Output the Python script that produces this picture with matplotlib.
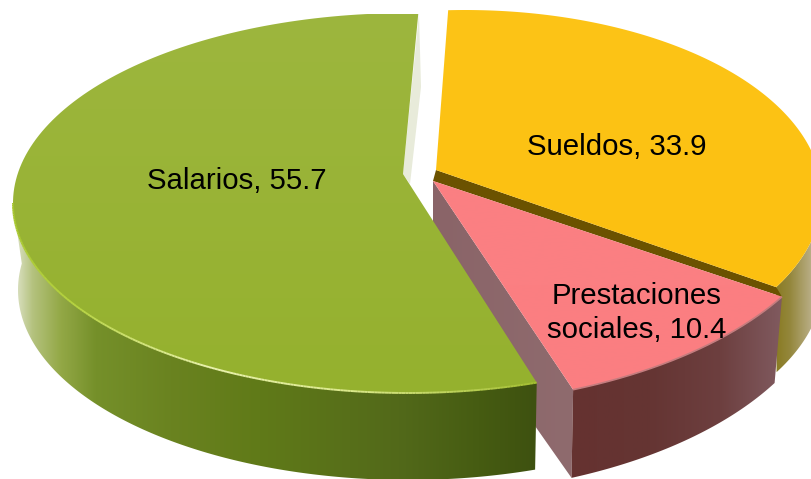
import numpy as np
import matplotlib; matplotlib.use("Agg"); import matplotlib.pyplot as plt
from matplotlib.collections import LineCollection
from matplotlib.colors import LinearSegmentedColormap
from matplotlib.patches import Polygon

plt.rcParams["font.family"] = ["Liberation Sans", "DejaVu Sans"]

CATEGORIES = ["Salarios", "Sueldos", "Prestaciones\nsociales"]
VALUES = [55.7, 33.9, 10.4]
W, H = 811, 479

fig = plt.figure(figsize=(W/100, H/100), dpi=100)
ax = fig.add_axes([0, 0, 1, 1]); ax.set_axis_off()

def arc(e, a0, a1, n=160):
    t = np.radians(np.linspace(a0, a1, n))
    return np.c_[e[0] + e[2]*np.cos(t), e[1] - e[3]*np.sin(t)]

def fill(pts, stops, vertical=False, z=1):
    # gradient clipped to a polygon, stops are (pixel position, colour)
    lo, hi = stops[0][0], stops[-1][0]
    cm = LinearSegmentedColormap.from_list("g", [((p-lo)/(hi-lo), c) for p, c in stops])
    g = np.linspace(0, 1, 256)
    g = g[:, None] if vertical else g[None, :]
    ext = (0, W, hi, lo) if vertical else (lo, hi, H, 0)
    im = ax.imshow(g, cmap=cm, extent=ext, aspect="auto", zorder=z, interpolation="bilinear")
    im.set_clip_path(Polygon(pts, closed=True, transform=ax.transData))

# ellipses are (cx, cy, rx, ry): top face then bottom face of each exploded slice
G_TOP, G_BOT = (408, 203, 395, 190), (408, 290, 390, 190)
Y_TOP, Y_BOT = (465, 196, 357, 186), (461, 281, 362, 186)
P_TOP, P_BOT = (407, 187, 433, 219.5), (410, 271, 421, 224)
G_APEX, Y_APEX, P_APEX = (403, 174), (436, 170), (433, 181)

g0 = 88.5; g1 = g0 + VALUES[0]*3.6           # green runs counter-clockwise
y0 = 92.7; y1 = y0 - VALUES[1]*3.6
p0 = -30.0; p1 = p0 - VALUES[2]*3.6

# ---------- Sueldos ----------
wall = np.r_[arc(Y_TOP, 12, y1), arc(Y_BOT, y1, 12)]
fill(wall, [(770, "#857618"), (790, "#94873c"), (811, "#b8ad84")], z=1)
top = np.r_[[Y_APEX], arc(Y_TOP, y0, y1)]
band = np.r_[[Y_APEX], arc(Y_TOP, y1, y1, 1), arc(P_TOP, p0, p0, 1), [P_APEX]]
ax.add_patch(Polygon(band, closed=True, fc="#6b5200", ec="none", zorder=2))
fill(top, [(10, "#fdc417"), (290, "#fcc010")], vertical=True, z=3)

# ---------- Prestaciones sociales ----------
a, b = arc(P_TOP, p1, p1, 1)[0], arc(P_BOT, p1, p1, 1)[0]
inner = [P_APEX, a, b, (433, 281)]
fill(inner, [(433, "#8a6468"), (575, "#8f6b6e")], z=4)
wall = np.r_[arc(P_TOP, p0, p1), arc(P_BOT, p1, p0)]
fill(wall, [(570, "#653230"), (650, "#653533"), (720, "#6d3f3f"), (782, "#805a5f")], z=5)
top = np.r_[[P_APEX], arc(P_TOP, p0, p1)]
fill(top, [(181, "#fb8083"), (390, "#fb7e81")], vertical=True, z=6)
e = arc(P_TOP, p0, p1)
ax.plot(e[:, 0], e[:, 1], color="#c47c7e", lw=1.2, zorder=6.5, solid_capstyle="butt")

# ---------- Salarios ----------
wall = np.r_[arc(G_TOP, 180, g1), arc(G_BOT, g1, 172)]
fill(wall, [(0, "#eceee0"), (18, "#d5dcb8"), (32, "#b4c27e"), (60, "#93a846"), (95, "#75902a"), (170, "#6a8320"),
            (260, "#607a18"), (400, "#52691a"), (480, "#465c12"), (537, "#3e5110")], z=7)
sliver = [(419, 14), (421, 87), (410, 184), G_APEX]
ax.add_patch(Polygon(sliver, closed=True, fc="#e8ebda", ec="none", zorder=7))
top = np.r_[[G_APEX], arc(G_TOP, g0, g1)]
fill(top, [(14, "#9db63e"), (393, "#95b12e")], vertical=True, z=8)

# rim highlight, brightest along the front-left of the disc
e = arc(G_TOP, 180, g1, 220)
segs = np.stack([e[:-1], e[1:]], axis=1)
rim = LinearSegmentedColormap.from_list("rim", [(0, "#a5c52c"), (0.30, "#b6d33f"), (0.55, "#eaf3ae"),
                                                (0.75, "#dbe98c"), (1, "#a5c033")])
lc = LineCollection(segs, colors=rim(np.linspace(0, 1, len(segs))), linewidths=1.4, zorder=9)
ax.add_collection(lc)

# ---------- labels ----------
LABEL_POS = [(237, 181), (617, 147), (637, 313)]
for cat, v, (x, y) in zip(CATEGORIES, VALUES, LABEL_POS):
    ax.text(x, y, f"{cat}, {v}", ha="center", va="center", fontsize=21.2, color="black",
            linespacing=1.3, zorder=20)

ax.set_xlim(0, W); ax.set_ylim(H, 0)
fig.savefig("out.png", dpi=100)
